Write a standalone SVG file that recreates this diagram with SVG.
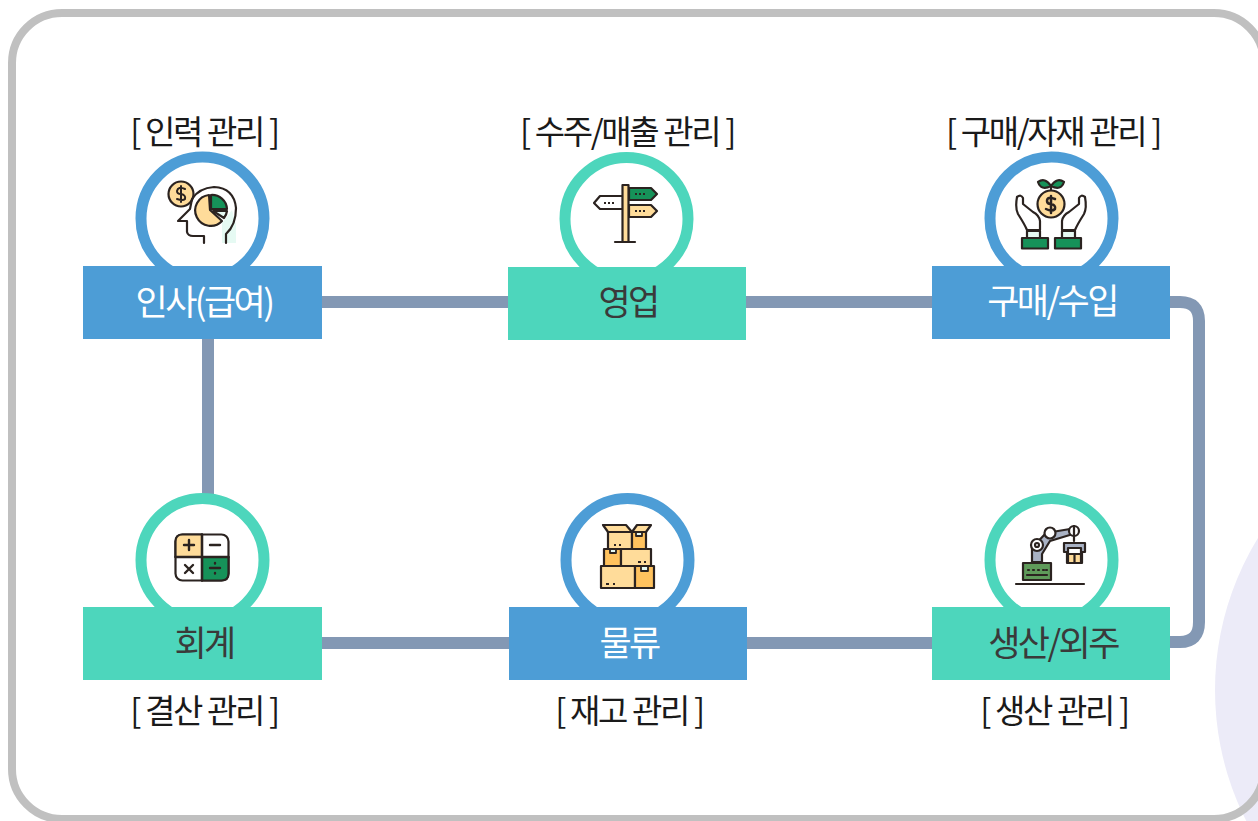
<svg xmlns="http://www.w3.org/2000/svg" width="1258" height="821" viewBox="0 0 1258 821">
<style>
text{font-family:"Noto Sans CJK KR","Noto Sans",sans-serif;text-anchor:middle}
.cap{font-size:35px;letter-spacing:-2.6px;fill:#3a3a3a}
.capw{font-size:35px;letter-spacing:-2.6px;fill:#fff}
.sub{font-size:33px;letter-spacing:-2.4px;word-spacing:1px;fill:#1a1a1a}
.blue{fill:#4d9dd6}.teal{fill:#4dd6bc}
.rb{fill:#fff;stroke:#4d9dd6;stroke-width:11}
.rt{fill:#fff;stroke:#4dd6bc;stroke-width:11}
.k{stroke:#2b2320;stroke-width:2.200;stroke-linejoin:round;stroke-linecap:round}
.n{fill:none}.o{fill:#ffdc9a}.d{fill:#ffc25e}.g{fill:#169259}.w{fill:#fff}.m{fill:#e6faf3}
.c{fill:none;stroke:#8398b4;stroke-width:12}
</style>
<circle cx="1505" cy="690" r="290" fill="#ecebf8"/>
<rect x="12" y="13" width="1252" height="806" rx="50" fill="none" stroke="#c0c0c0" stroke-width="8"/>
<g id="connectors">
<path class="c" d="M322 302H508M746 302H932M1170 302H1180Q1199 302 1199 321V622Q1199 642 1180 642H1170M932 643H747M509 643H322M208 339V496"/>
</g>
<g id="hr">
<circle class="rb" cx="202.500" cy="218.500" r="61.500"/>
<rect class="blue" x="83" y="266" width="239" height="73"/>
<text class="capw" x="204" y="315">인사(급여)</text>
<text class="sub" x="204" y="144">[ 인력 관리 ]</text>
<g class="k">
<circle class="o" cx="181" cy="194" r="12.500"/>
<path class="n" d="M185 189Q178 186 177 191Q177 194 181 194Q186 195 185 199Q183 201 177 199M181 186V202" stroke-width="2"/>
<path class="m" stroke="none" d="M222 243V223L232 210L236 225V243Z"/>
<path class="n" d="M226 243V234Q236 225 236 208Q234 188 214 187Q199 188 192 199L190 209L178 221H187V232Q188 236 193 236H204V243"/>
<path class="o" d="M209 195A15.500 15.500 0 1 0 222 221L210 210Z"/>
<path class="g" d="M211 195A15 15 0 0 1 227 209H211Z"/>
<path class="m" d="M213 211H227A14 14 0 0 1 224 218Z"/>
</g>
</g>
<g id="sales">
<circle class="rt" cx="626.500" cy="219" r="61.500"/>
<rect class="teal" x="508" y="267" width="238" height="73"/>
<text class="cap" x="628" y="315">영업</text>
<text class="sub" x="627" y="144">[ 수주/매출 관리 ]</text>
<g class="k">
<path class="w" d="M623 196H600L594 203L600 209H623Z"/>
<path class="g" d="M629 188H651L657 194L651 200H629Z"/>
<path class="o" d="M629 205H651L657 211L651 217H629Z"/>
<rect class="o" x="622.500" y="185" width="6" height="57"/>
<path class="n" d="M615 242H635"/>
<path class="n" d="M604 203H614M635 194H645M635 211H645" stroke-dasharray="2 2" stroke-linecap="butt"/>
</g>
</g>
<g id="purchase">
<circle class="rb" cx="1051.500" cy="218.500" r="61.500"/>
<rect class="blue" x="932" y="266" width="238" height="73"/>
<text class="capw" x="1052" y="314">구매/수입</text>
<text class="sub" x="1053" y="144">[ 구매/자재 관리 ]</text>
<g class="k">
<path class="g" d="M1051 186Q1041 191 1038 182Q1045 177 1051 186ZM1051 186Q1061 191 1064 182Q1057 177 1051 186Z"/>
<path class="n" d="M1051 186V191"/>
<circle class="o" cx="1051" cy="204" r="13.500"/>
<path class="n" d="M1055 199Q1047 196 1047 201Q1047 204 1051 204Q1056 205 1055 209Q1052 212 1046 209M1051 196V213" stroke-width="2.500"/>
<path class="w" d="M1040 230V221Q1039 215 1033 212L1023 204V198Q1021 194 1017 197Q1015 208 1018 214Q1025 225 1027 230Z"/>
<path class="w" d="M1062 230V221Q1063 215 1069 212L1079 204V198Q1081 194 1085 197Q1087 208 1084 214Q1077 225 1075 230Z"/>
<rect class="m" x="1027" y="231" width="13" height="7"/>
<rect class="m" x="1062" y="231" width="13" height="7"/>
<rect class="g" x="1022" y="238" width="26" height="10.500"/>
<rect class="g" x="1055" y="238" width="26" height="10.500"/>
</g>
</g>
<g id="accounting">
<circle class="rt" cx="202.500" cy="560" r="61.500"/>
<rect class="teal" x="83" y="607" width="239" height="73"/>
<text class="cap" x="204" y="656">회계</text>
<text class="sub" x="204" y="723">[ 결산 관리 ]</text>
<g class="k">
<rect class="w" x="175.500" y="534.500" width="53" height="46" rx="7"/>
<path class="o" d="M202 534.500H182.500Q175.500 534.500 175.500 541.500V557H202Z"/>
<path class="g" d="M202 557H228.500V573.500Q228.500 580.500 221.500 580.500H202Z"/>
<path class="n" d="M202 534.500V580.500M175.500 557H228.500M184 545H194M189 540V550M210 545H220M185 565L193 573M193 565L185 573M210 568H220" stroke-width="2.400"/>
<path class="n" d="M215 563V563.500M215 573V573.500" stroke-width="2.400"/>
</g>
</g>
<g id="logistics">
<circle class="rb" cx="627.500" cy="560" r="61.500"/>
<rect class="blue" x="509" y="607" width="238" height="73"/>
<text class="capw" x="629" y="656">물류</text>
<text class="sub" x="629" y="723">[ 재고 관리 ]</text>
<g class="k" stroke-width="2.500">
<path class="o" d="M608 532H632V549H608Z"/>
<rect class="d" x="632" y="532" width="14" height="17"/>
<path class="o" d="M603 525H626L632 532H608ZM632 532L637 525H651L646 532Z"/>
<rect class="d" x="604" y="549" width="17" height="17"/>
<rect class="o" x="621" y="549" width="30" height="17"/>
<rect class="o" x="601" y="566" width="34" height="22"/>
<rect class="d" x="635" y="566" width="19" height="22"/>
<path class="n" d="M606 584H609M613 584H615M638 562H641M644 562H646M614 545H616M619 545H621" stroke-linecap="butt"/>
<path class="m" d="M636 532H642V536H636ZM610 549H616V553H610ZM641 566H648V571H641Z" stroke-width="1.800"/>
</g>
</g>
<g id="production">
<circle class="rt" cx="1051.500" cy="560" r="61.500"/>
<rect class="teal" x="932" y="607" width="238" height="73"/>
<text class="cap" x="1053" y="656">생산/외주</text>
<text class="sub" x="1054" y="723">[ 생산 관리 ]</text>
<g class="k">
<path d="M1032 562V548L1046 533L1070 529L1073 534L1050 541L1042 554V562Z" fill="#a9b2c4"/>
<circle class="w" cx="1037" cy="545" r="6"/>
<circle class="n" cx="1037" cy="545" r="2"/>
<circle class="w" cx="1050" cy="533" r="5.500"/>
<circle class="w" cx="1074" cy="531" r="5"/>
<path class="n" d="M1074 526V536M1074 536V541"/>
<path d="M1064 552V543H1085V552H1082V563H1067V552Z" fill="#a9b2c4"/>
<rect class="w" x="1068" y="548" width="13" height="6"/>
<path class="o" d="M1068 554H1081V563H1068Z"/>
<path class="n" d="M1074.500 554V563"/>
<rect x="1023" y="563" width="28" height="17" fill="#5f9a5a"/>
<path class="n" d="M1028 570H1029M1033 570H1034M1038 570H1039M1043 570H1044M1046 570H1047M1027 575H1047"/>
<path class="n" d="M1016 584H1084"/>
</g>
</g>
</svg>
